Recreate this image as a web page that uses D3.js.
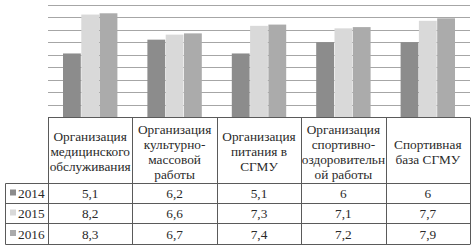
<!DOCTYPE html>
<html><head><meta charset="utf-8">
<script src="https://cdn.jsdelivr.net/npm/d3@7"></script>
<style>body{margin:0;background:#fff}svg{display:block}
text{font-family:"Liberation Serif","Times New Roman",Times,"DejaVu Serif",serif;font-size:13.3px;fill:#2a2a2a}</style>
</head><body><svg id="c" width="475" height="249"></svg>
<script>
const categories = [
  ["Организация","медицинского","обслуживания"],
  ["Организация","культурно-","массовой","работы"],
  ["Организация","питания в","СГМУ"],
  ["Организация","спортивно-","оздоровительн","ой работы"],
  ["Спортивная","база СГМУ"]
];
const seriesNames = ["2014","2015","2016"];
const v2014 = [5.1,6.2,5.1,6,6];
const v2015 = [8.2,6.6,7.3,7.1,7.7];
const v2016 = [8.3,6.7,7.4,7.2,7.9];
const valueLabels = [
  ["5,1","6,2","5,1","6","6"],
  ["8,2","6,6","7,3","7,1","7,7"],
  ["8,3","6,7","7,4","7,2","7,9"]
];
const yTicks = [0,1,2,3,4,5,6,7,8,9];
const colors = ["#8c8c8c","#d9d9d9","#ababab"];
const series = [v2014, v2015, v2016];

(function(){
const svg = d3.select("#c");
const pLeft = 48, pRight = 470, pTop = 4.5, base = 117.5;
const x = d3.scaleBand().domain(d3.range(categories.length)).range([pLeft,pRight]).paddingInner(0).paddingOuter(0);
const y = d3.scaleLinear().domain([0,9]).range([base, pTop]);
const inner = d3.scaleBand().domain(d3.range(3)).range([15, x.bandwidth()-14.5]).padding(0);

svg.append("g").selectAll("line").data(yTicks.slice(1)).join("line")
  .attr("x1", pLeft).attr("x2", pRight)
  .attr("y1", d=>Math.round(y(d))+0.5).attr("y2", d=>Math.round(y(d))+0.5)
  .attr("stroke","#a6a6a6").attr("stroke-width",1);

series.forEach((s,si)=>{
  svg.append("g").selectAll("rect").data(s).join("rect")
    .attr("x",(d,i)=>x(i)+inner(si))
    .attr("width", inner.bandwidth()-0.5)
    .attr("y", d=>y(d)).attr("height", d=>base - y(d))
    .attr("fill", colors[si]);
});

const rowY = [117.5, 183.5, 203.5, 223.5, 244.5];
const tbl = svg.append("g");
const lc = "#5a5a5a";
tbl.append("line").attr("x1",pLeft).attr("x2",pRight).attr("y1",rowY[0]).attr("y2",rowY[0]).attr("stroke",lc);
rowY.slice(1).forEach(yy=>{
  tbl.append("line").attr("x1",5.5).attr("x2",pRight).attr("y1",yy).attr("y2",yy).attr("stroke",lc);
});
d3.range(categories.length+1).forEach(i=>{
  const xx = Math.round(i<categories.length ? x(i) : pRight)+0.5;
  tbl.append("line").attr("x1",xx).attr("x2",xx).attr("y1",rowY[0]).attr("y2",rowY[4]).attr("stroke",lc);
});
tbl.append("line").attr("x1",5.5).attr("x2",5.5).attr("y1",rowY[1]).attr("y2",rowY[4]).attr("stroke",lc);

categories.forEach((lines,i)=>{
  const cx = x(i)+x.bandwidth()/2;
  const lh = 15;
  const cy = (rowY[0]+rowY[1])/2 + 1;
  const y0 = cy - (lines.length-1)*lh/2;
  const t = svg.append("text").attr("text-anchor","middle");
  lines.forEach((ln,j)=>{
    t.append("tspan").attr("x",cx).attr("y",y0+j*lh).attr("dy","0.35em").text(ln);
  });
});
seriesNames.forEach((nm,si)=>{
  const cy = (rowY[si+1]+rowY[si+2])/2;
  svg.append("rect").attr("x",10).attr("y",cy-4).attr("width",6).attr("height",6).attr("fill",colors[si]);
  svg.append("text").attr("x",18).attr("y",cy).attr("dy","0.35em").text(nm);
  valueLabels[si].forEach((lab,i)=>{
    svg.append("text").attr("x",x(i)+x.bandwidth()/2).attr("y",cy).attr("dy","0.35em")
      .attr("text-anchor","middle").text(lab);
  });
});
})();
</script></body></html>
